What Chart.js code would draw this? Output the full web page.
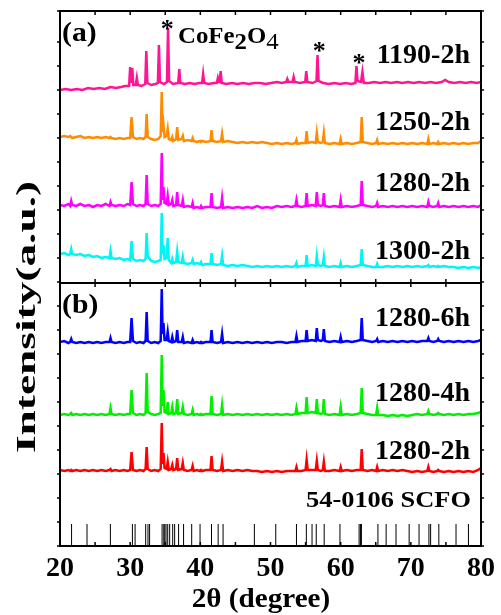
<!DOCTYPE html>
<html>
<head>
<meta charset="utf-8">
<script src="https://cdn.jsdelivr.net/npm/chart.js@4.4.1/dist/chart.umd.min.js"></script>
<style>
  html, body { margin: 0; padding: 0; background: #fff; }
  canvas { display: block; }
</style>
</head>
<body>
<canvas id="xrd" width="501" height="615"></canvas>
<script>
// 2θ sampling shared by the SCFO patterns (degrees)
const scfoAngles = [
  20.0, 20.6, 21.2, 21.45, 21.6, 21.75, 22.3, 22.9, 23.5, 24.1,
  24.7, 25.3, 25.9, 26.5, 27.05, 27.2, 27.35, 27.9, 28.5, 29.1,
  29.6, 30.0, 30.2, 30.4, 30.9, 31.4, 31.9, 32.2, 32.35, 32.5,
  33.0, 33.5, 34.0, 34.35, 34.5, 34.62, 34.75, 34.9, 35.2, 35.35,
  35.5, 35.85, 36.0, 36.15, 36.55, 36.7, 36.85, 37.35, 37.5, 37.65,
  38.2, 38.75, 38.9, 39.05, 39.5, 39.95, 40.1, 40.25, 40.8, 41.45,
  41.6, 41.75, 42.4, 42.95, 43.1, 43.25, 43.9, 44.6, 45.3, 46.0,
  46.7, 47.4, 48.1, 48.8, 49.5, 50.2, 50.9, 51.6, 52.3, 53.0,
  53.55, 53.7, 53.85, 54.4, 55.0, 55.15, 55.3, 55.9, 56.45, 56.6,
  56.75, 57.2, 57.45, 57.6, 57.75, 58.4, 59.1, 59.85, 60.0, 60.15,
  60.9, 61.6, 62.3, 62.85, 63.0, 63.15, 63.8, 64.5, 65.05, 65.2,
  65.35, 66.0, 66.7, 67.4, 68.1, 68.8, 69.5, 70.2, 70.9, 71.6,
  72.35, 72.5, 72.65, 73.2, 73.75, 73.9, 74.05, 74.7, 75.4, 76.1,
  76.8, 77.5, 78.2, 78.9, 79.6, 80.0
];

// stacked intensities (a.u., offset per pattern)
const int1250_2h = [
  409,410,409,410,409,408,409,410,408,409,
  408,409,408,409,408,409,408,407,408,407,
  408,408,429,409,407,408,407,409,432,409,
  407,406,407,410,454,414,421,409,410,417,
  407,406,409,405,407,419,406,407,410,405,
  406,405,408,405,404,405,404,405,404,405,
  416,405,404,405,412,404,405,404,403,404,
  403,404,403,404,403,402,403,402,403,402,
  403,406,402,403,403,415,403,404,403,413,
  404,403,404,413,403,402,403,402,407,402,
  403,402,403,404,429,404,403,402,403,406,
  402,403,402,403,402,403,402,403,402,403,
  402,407,402,403,402,404,402,403,402,403,
  402,403,402,403,403,405
];
const int1280_2h_a = [
  341,340,342,340,345,341,340,342,340,341,
  339,341,340,342,340,344,341,340,341,340,
  342,341,364,342,340,341,340,342,371,342,
  340,341,340,342,393,346,359,343,342,350,
  341,342,346,340,341,354,341,340,346,339,
  340,339,343,338,339,338,340,338,339,339,
  353,339,338,339,348,338,339,338,339,338,
  339,338,340,338,339,338,340,339,340,339,
  340,346,340,339,340,353,340,341,340,354,
  341,340,341,353,340,339,340,339,346,339,
  340,339,340,341,365,341,340,339,340,343,
  339,340,339,340,339,340,339,340,339,340,
  339,344,340,339,340,343,339,340,339,340,
  339,340,339,340,339,341
];
const int1300_2h = [
  292,293,291,292,297,292,291,292,290,291,
  289,290,288,289,288,295,288,287,288,286,
  287,286,305,287,285,286,285,287,313,290,
  285,284,285,286,333,292,301,287,288,308,
  286,283,287,283,284,294,284,283,289,283,
  282,283,286,282,283,282,284,281,282,282,
  293,282,281,282,290,281,280,281,280,281,
  280,279,280,279,280,279,280,279,280,279,
  280,283,279,280,280,291,280,281,280,290,
  281,280,281,289,280,279,280,279,283,279,
  280,279,280,281,297,281,280,279,279,282,
  279,279,280,279,280,279,280,279,280,279,
  280,281,279,280,279,280,279,280,279,279,
  278,279,278,279,278,279
];
const int1280_6h = [
  204,205,203,204,207,204,203,204,203,204,
  203,204,203,204,204,208,204,203,204,203,
  204,204,228,205,203,204,203,205,234,205,
  203,204,203,205,257,212,223,206,206,214,
  205,204,209,204,205,216,204,204,209,203,
  204,203,206,203,204,203,204,203,204,204,
  216,204,203,204,212,203,204,203,204,203,
  204,203,204,203,204,203,204,204,203,204,
  204,210,204,205,205,216,205,206,205,218,
  206,205,206,217,205,204,205,204,209,204,
  205,204,205,206,228,206,205,204,205,207,
  204,205,204,205,204,205,204,205,204,205,
  205,208,205,204,205,207,205,204,205,204,
  205,204,205,204,205,206
];
const int1280_4h = [
  131,132,131,132,133,131,132,131,132,131,
  132,131,132,131,132,138,132,131,132,131,
  132,132,156,133,131,132,131,133,173,134,
  132,131,132,133,191,140,156,134,133,144,
  132,133,139,132,133,147,132,133,139,132,
  131,132,136,131,132,131,132,131,132,132,
  150,132,131,132,141,131,132,131,132,131,
  132,131,132,131,132,131,132,131,132,131,
  132,138,132,133,133,149,133,134,133,147,
  133,132,133,147,132,131,132,131,139,131,
  132,131,132,133,158,133,132,131,131,138,
  131,131,130,131,130,131,130,131,132,131,
  132,135,132,131,132,133,132,131,132,131,
  132,131,132,132,133,134
];
const int1280_2h_b = [
  76,75,76,75,76,75,76,75,76,75,
  76,75,76,75,76,77,75,76,75,76,
  75,76,94,76,75,76,75,77,99,77,
  75,76,75,77,123,82,93,78,77,84,
  76,77,81,76,77,88,76,77,83,76,
  75,76,80,75,76,75,76,75,76,76,
  90,76,75,76,84,75,76,75,76,75,
  76,75,75,74,75,74,75,74,75,75,
  75,79,75,75,76,86,76,76,76,85,
  76,75,76,84,75,75,76,75,79,75,
  76,75,76,76,97,76,75,76,75,79,
  75,76,75,76,75,76,75,74,75,74,
  75,79,75,74,75,76,75,74,75,74,
  75,74,75,74,76,78
];

// 1190 °C sample (contains CoFe2O4)
const angles1190 = [
  20.0, 20.8, 21.6, 22.4, 23.2, 24.0, 24.8, 25.6, 26.4, 27.2,
  28.0, 28.7, 29.3, 29.85, 30.0, 30.15, 30.3, 30.45, 30.8, 30.95,
  31.1, 31.6, 32.15, 32.3, 32.45, 33.0, 33.6, 33.95, 34.1, 34.25,
  34.8, 35.25, 35.4, 35.55, 36.1, 36.85, 37.0, 37.15, 37.8, 38.5,
  39.2, 39.8, 40.25, 40.4, 40.55, 41.2, 41.9, 42.35, 42.5, 42.65,
  42.75, 42.9, 43.05, 43.7, 44.5, 45.3, 46.1, 46.9, 47.7, 48.5,
  49.3, 50.1, 50.9, 51.6, 52.25, 52.4, 52.55, 53.15, 53.3, 53.45,
  54.2, 54.95, 55.1, 55.25, 56.0, 56.55, 56.7, 56.85, 57.5, 58.3,
  59.1, 59.9, 60.7, 61.5, 62.1, 62.25, 62.4, 62.9, 63.1, 63.3,
  64.0, 64.8, 65.6, 66.4, 67.2, 68.0, 68.8, 69.6, 70.4, 71.2,
  72.0, 72.8, 73.6, 74.4, 74.9, 75.4, 76.2, 77.0, 77.8, 78.6,
  79.4, 80.0
];
const int1190_2h = [
  456,457,456,457,456,458,457,458,457,459,
  458,459,460,460,479,463,478,461,461,468,
  461,460,462,495,463,461,462,463,501,464,
  462,464,518,465,462,463,477,463,462,463,
  462,463,463,472,463,462,463,463,468,464,
  464,475,463,462,463,462,463,462,463,463,
  462,463,464,463,464,467,464,464,469,464,
  463,464,475,464,463,465,491,465,463,462,
  463,462,463,462,463,480,465,464,474,463,
  463,464,463,464,463,464,463,464,463,464,
  463,464,463,464,466,464,463,464,463,464,
  463,464
];

// CoFe2O4 reflections marked with an asterisk: 2θ and height of the mark
const cfoMarkAngles = [35.3, 56.95, 62.6];
const cfoMarkLevels = [509, 487, 475];

// PDF 54-0106 (SCFO) reference line positions, 2θ
const pdfLines = [
  21.65, 23.85, 27.18, 30.32, 30.70, 32.21, 32.54, 32.77, 34.55, 34.79,
  34.93, 35.11, 35.35, 35.63, 36.06, 36.34, 36.90, 37.61, 38.77, 39.96,
  41.59, 42.54, 43.24, 47.70, 50.75, 53.70, 55.11, 55.92, 56.52, 57.65,
  59.90, 62.63, 62.82, 62.96, 65.31, 66.48, 67.89, 69.76, 71.17, 72.58,
  72.82, 73.99, 76.44, 78.21
];
const pdfLineHeight = 22;

const sampleLabels = ['1190-2h', '1250-2h', '1280-2h', '1300-2h', '1280-6h', '1280-4h', '1280-2h'];
const labelLevels = [483, 416, 355, 287, 220, 145, 87];
const panelBoundary = 263;

const serif = '"Liberation Serif", "Times New Roman", serif';

function series(angles, values, color) {
  return {
    data: angles.map((a, i) => ({ x: a, y: values[i] })),
    borderColor: color,
    borderWidth: 2.5,
    pointRadius: 0,
    tension: 0,
    fill: false
  };
}

const pdfData = [];
pdfLines.forEach(a => {
  pdfData.push({ x: a, y: 0 }, { x: a, y: pdfLineHeight }, { x: a, y: null });
});

function stretchText(ctx, s, x, y, font, align, sx) {
  ctx.save();
  ctx.font = font;
  ctx.textAlign = 'left';
  ctx.textBaseline = 'alphabetic';
  const w = ctx.measureText(s).width * sx;
  const x0 = align === 'right' ? x - w : align === 'center' ? x - w / 2 : x;
  ctx.translate(x0, y);
  ctx.scale(sx, 1);
  ctx.fillText(s, 0, 0);
  ctx.restore();
  return w;
}

const framePlugin = {
  id: 'frame',
  afterDraw(chart) {
    const { ctx, chartArea: a, scales: { x, y } } = chart;
    const seg = (x1, y1, x2, y2) => { ctx.beginPath(); ctx.moveTo(x1, y1); ctx.lineTo(x2, y2); ctx.stroke(); };
    ctx.save();
    ctx.strokeStyle = '#000';
    ctx.fillStyle = '#000';
    ctx.lineWidth = 2;
    ctx.strokeRect(a.left, a.top, a.right - a.left, a.bottom - a.top);
    const ySplit = y.getPixelForValue(panelBoundary);
    seg(a.left, ySplit, a.right, ySplit);

    ctx.lineWidth = 1.5;
    x.ticks.forEach(t => {
      const px = x.getPixelForValue(t.value);
      seg(px, a.top, px, a.top + 4);
      seg(px, a.bottom, px, a.bottom - 4);
      seg(px, ySplit - 4, px, ySplit + 4);
    });
    y.ticks.forEach(t => {
      const py = y.getPixelForValue(t.value);
      seg(a.left - 3, py, a.left, py);
      seg(a.right, py, a.right + 3, py);
    });

    // sample names
    const bold28 = 'bold 28px ' + serif;
    sampleLabels.forEach((s, i) => {
      stretchText(ctx, s, a.right - 11, y.getPixelForValue(labelLevels[i]), bold28, 'right', 1);
    });
    stretchText(ctx, '54-0106 SCFO', a.right - 10, y.getPixelForValue(39), 'bold 24px ' + serif, 'right', 1.1);

    // panel tags
    stretchText(ctx, '(a)', a.left + 2, a.top + 30, 'bold 27px ' + serif, 'left', 1.1);
    stretchText(ctx, '(b)', a.left + 2, ySplit + 30, 'bold 27px ' + serif, 'left', 1.1);

    // CoFe2O4 phase marks
    cfoMarkAngles.forEach((ang, i) => {
      stretchText(ctx, '*', x.getPixelForValue(ang), y.getPixelForValue(cfoMarkLevels[i]), 'bold 26px ' + serif, 'center', 1);
    });
    let cx = 178;
    const cy = a.top + 32;
    const f = 'bold 23px ' + serif;
    cx += stretchText(ctx, 'CoFe', cx, cy, f, 'left', 1.08);
    cx += stretchText(ctx, '2', cx, cy + 6, f, 'left', 1.08);
    cx += stretchText(ctx, 'O', cx, cy, f, 'left', 1.08);
    stretchText(ctx, '4', cx, cy + 6, '23px ' + serif, 'left', 1.08);

    // axis titles
    stretchText(ctx, '2\u03B8 (degree)', 261, 607, 'bold 27px ' + serif, 'center', 1.08);
    ctx.save();
    ctx.translate(35, 317);
    ctx.rotate(-Math.PI / 2);
    stretchText(ctx, 'Intensity(a.u.)', 0, 0, 'bold 28px ' + serif, 'center', 1.62);
    ctx.restore();
    ctx.restore();
  }
};

new Chart(document.getElementById('xrd'), {
  type: 'line',
  data: {
    datasets: [
      series(angles1190, int1190_2h, '#FF1493'),
      series(scfoAngles, int1250_2h, '#FF8C00'),
      series(scfoAngles, int1280_2h_a, '#FF00FF'),
      series(scfoAngles, int1300_2h, '#00F5F5'),
      series(scfoAngles, int1280_6h, '#0000FF'),
      series(scfoAngles, int1280_4h, '#00F000'),
      series(scfoAngles, int1280_2h_b, '#FF0000'),
      { data: pdfData, borderColor: '#000', borderWidth: 1, pointRadius: 0, spanGaps: false, fill: false }
    ]
  },
  options: {
    responsive: false,
    animation: false,
    devicePixelRatio: 1,
    layout: { padding: { left: 60, right: 15, top: 11, bottom: 0 } },
    plugins: { legend: { display: false }, tooltip: { enabled: false } },
    scales: {
      x: {
        type: 'linear',
        min: 20,
        max: 80,
        afterFit: s => { s.height = 69; },
        grid: { display: false, drawTicks: false },
        border: { display: false },
        ticks: {
          stepSize: 5,
          autoSkip: false,
          maxRotation: 0,
          padding: 6,
          color: '#000',
          font: { family: serif, weight: 'bold', size: 28 },
          callback: v => (v % 10 === 0 ? String(v) : '')
        }
      },
      y: {
        display: false,
        min: 0,
        max: 535,
        ticks: { stepSize: 12 }
      }
    }
  },
  plugins: [framePlugin]
});
</script>
</body>
</html>
